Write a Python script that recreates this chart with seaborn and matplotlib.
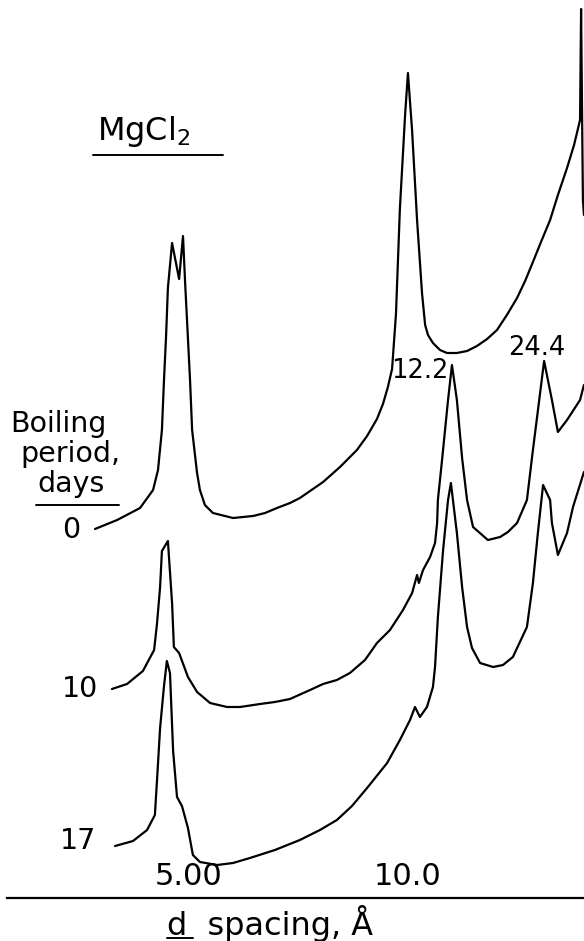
import matplotlib
matplotlib.use("Agg")
import matplotlib.pyplot as plt
import matplotlib.transforms as mtransforms
import numpy as np
import pandas as pd
import seaborn as sns

# ---- data (x = 2-theta, deg CuKa ; y = relative intensity) ----
days = [0, 10, 17]

two_theta_0 = [21.01, 20.16, 19.28, 18.78, 18.59, 18.44, 18.36, 18.28, 18.21, 18.05,
               17.78, 17.63, 17.55, 17.36, 17.28, 17.09, 16.98, 16.79, 16.48, 15.71,
               14.94, 14.48, 14.02, 13.52, 13.14, 12.75, 12.25, 11.60, 10.95, 10.56,
               10.18, 9.95, 9.76, 9.60, 9.45, 9.30, 9.10, 8.99, 8.83, 8.64,
               8.45, 8.33, 8.22, 8.03, 7.76, 7.49, 7.11, 6.72, 6.34, 5.95,
               5.57, 5.19, 4.80, 4.49, 4.19, 3.88, 3.53, 3.23, 2.88, 2.61,
               2.38, 2.34, 2.27, 2.23]
intensity_0 = [369, 378, 390, 408, 428, 468, 518, 562, 610, 655,
               619, 662, 616, 518, 468, 425, 408, 393, 385, 380,
               382, 385, 390, 395, 400, 407, 416, 431, 448, 462,
               479, 494, 511, 529, 584, 689, 783, 825, 767, 678,
               605, 573, 563, 555, 548, 545, 545, 547, 552, 559,
               568, 583, 600, 617, 636, 656, 678, 703, 730, 753,
               778, 889, 698, 683]

two_theta_10 = [20.36, 19.78, 19.17, 18.74, 18.63, 18.51, 18.44, 18.21, 18.05, 17.98,
                17.78, 17.44, 17.09, 16.59, 15.94, 15.44, 14.67, 14.10, 13.52, 12.75,
                12.25, 11.72, 11.22, 10.64, 10.18, 9.68, 9.18, 8.83, 8.64, 8.57,
                8.41, 8.14, 7.95, 7.87, 7.84, 7.68, 7.45, 7.30, 7.11, 6.91,
                6.72, 6.49, 5.92, 5.45, 5.15, 4.80, 4.42, 4.19, 4.03, 3.76,
                3.46, 3.23, 2.88, 2.38, 2.23]
intensity_10 = [209, 214, 227, 248, 274, 311, 347, 357, 295, 251,
                245, 221, 206, 195, 191, 191, 194, 196, 199, 208,
                214, 218, 225, 238, 255, 268, 288, 305, 323, 315,
                328, 341, 355, 375, 398, 438, 498, 533, 498, 440,
                398, 371, 358, 361, 366, 375, 398, 448, 481, 537,
                498, 466, 478, 498, 513]

two_theta_17 = [20.24, 19.55, 19.01, 18.71, 18.63, 18.51, 18.36, 18.25, 18.13, 18.01,
                17.86, 17.67, 17.44, 17.25, 16.98, 16.32, 15.71, 15.06, 14.10, 13.14,
                12.37, 11.72, 11.14, 10.56, 9.79, 9.30, 8.91, 8.72, 8.53, 8.26,
                8.03, 7.95, 7.84, 7.64, 7.45, 7.34, 7.11, 6.91, 6.72, 6.53,
                6.22, 5.72, 5.34, 4.96, 4.42, 4.19, 4.00, 3.80, 3.53, 3.46,
                3.23, 2.88, 2.65, 2.23]
intensity_17 = [52, 57, 68, 83, 117, 170, 212, 237, 225, 147,
                101, 92, 70, 43, 36, 33, 35, 40, 48, 58,
                68, 78, 92, 110, 135, 158, 178, 191, 181, 191,
                211, 231, 281, 348, 398, 415, 365, 311, 271, 250,
                235, 231, 233, 241, 271, 315, 365, 413, 398, 375,
                343, 365, 391, 426]

tick_d = [5.00, 10.0]
tick_labels = ["5.00", "10.0"]
peak_labels = ["12.2", "24.4"]
peak_label_x = [8.53, 4.03]
peak_label_y = [520, 543]
day_label_x = [21.93, 21.59, 21.66]
day_label_y = [360, 201, 49]

WAVE = 88.34  # 2-theta (deg) * d (A) for CuKa, small-angle form

frames = []
for d_, tt, it in zip(days, [two_theta_0, two_theta_10, two_theta_17],
                      [intensity_0, intensity_10, intensity_17]):
    frames.append(pd.DataFrame({"two_theta": tt, "intensity": it, "days": d_}))
df = pd.concat(frames, ignore_index=True)

sns.set_style("white")
plt.rcParams["font.family"] = ["DejaVu Sans"]
plt.rcParams["text.color"] = "black"
plt.rcParams["xtick.color"] = "black"
plt.rcParams["xtick.labelcolor"] = "black"

fig = plt.figure(figsize=(5.84, 9.41), dpi=100)
ax = fig.add_axes([0, 0, 1, 1])
sns.lineplot(data=df, x="two_theta", y="intensity", units="days", estimator=None,
             sort=False, color="black", lw=1.6, legend=False, ax=ax)

ax.set_xlim(24.659, 2.228)
ax.set_ylim(-43, 898)
for s in ["top", "left", "right"]:
    ax.spines[s].set_visible(False)
ax.spines["bottom"].set_position(("data", 0))
ax.spines["bottom"].set_bounds(24.39, 2.228)
ax.spines["bottom"].set_linewidth(1.6)
ax.spines["bottom"].set_color("black")
ax.set_yticks([])
ax.set_xticks([WAVE / d for d in tick_d], labels=tick_labels)
ax.tick_params(axis="x", direction="in", length=6, width=1.4, color="black",
               labelcolor="black", pad=-26, labelsize=22)
# lettering in the original sits slightly off-centre of each tick
for lab, dx in zip(ax.get_xticklabels(), [0.07, -0.04]):
    lab.set_transform(lab.get_transform() +
                      mtransforms.ScaledTranslation(dx, 0, fig.dpi_scale_trans))
ax.set_xlabel("")
ax.set_ylabel("")

# texts
ax.text(20.93, 758, r"MgCl$_2$", fontsize=23, ha="left", va="baseline", color="black")
ax.plot([21.09, 16.09], [743, 743], color="black", lw=1.4)
ax.text(24.27, 466, "Boiling", fontsize=20.5, ha="left", va="baseline", color="black")
ax.text(23.89, 436, "period,", fontsize=20.5, ha="left", va="baseline", color="black")
ax.text(23.24, 406, "days", fontsize=20.5, ha="left", va="baseline", color="black")
ax.plot([23.28, 20.09], [393, 393], color="black", lw=1.4)
for d_, x_, y_ in zip(days, day_label_x, day_label_y):
    ax.text(x_, y_, str(d_), fontsize=20.5, ha="center", va="baseline", color="black")
for lab, x_, y_ in zip(peak_labels, peak_label_x, peak_label_y):
    ax.text(x_, y_, lab, fontsize=18.5, ha="center", va="baseline", color="black")
ax.text(18.24, -37, "d  spacing, Å", fontsize=23, ha="left", va="baseline", color="black")
ax.plot([18.25, 17.25], [-40, -40], color="black", lw=1.4)

fig.savefig("out.png", dpi=100)
